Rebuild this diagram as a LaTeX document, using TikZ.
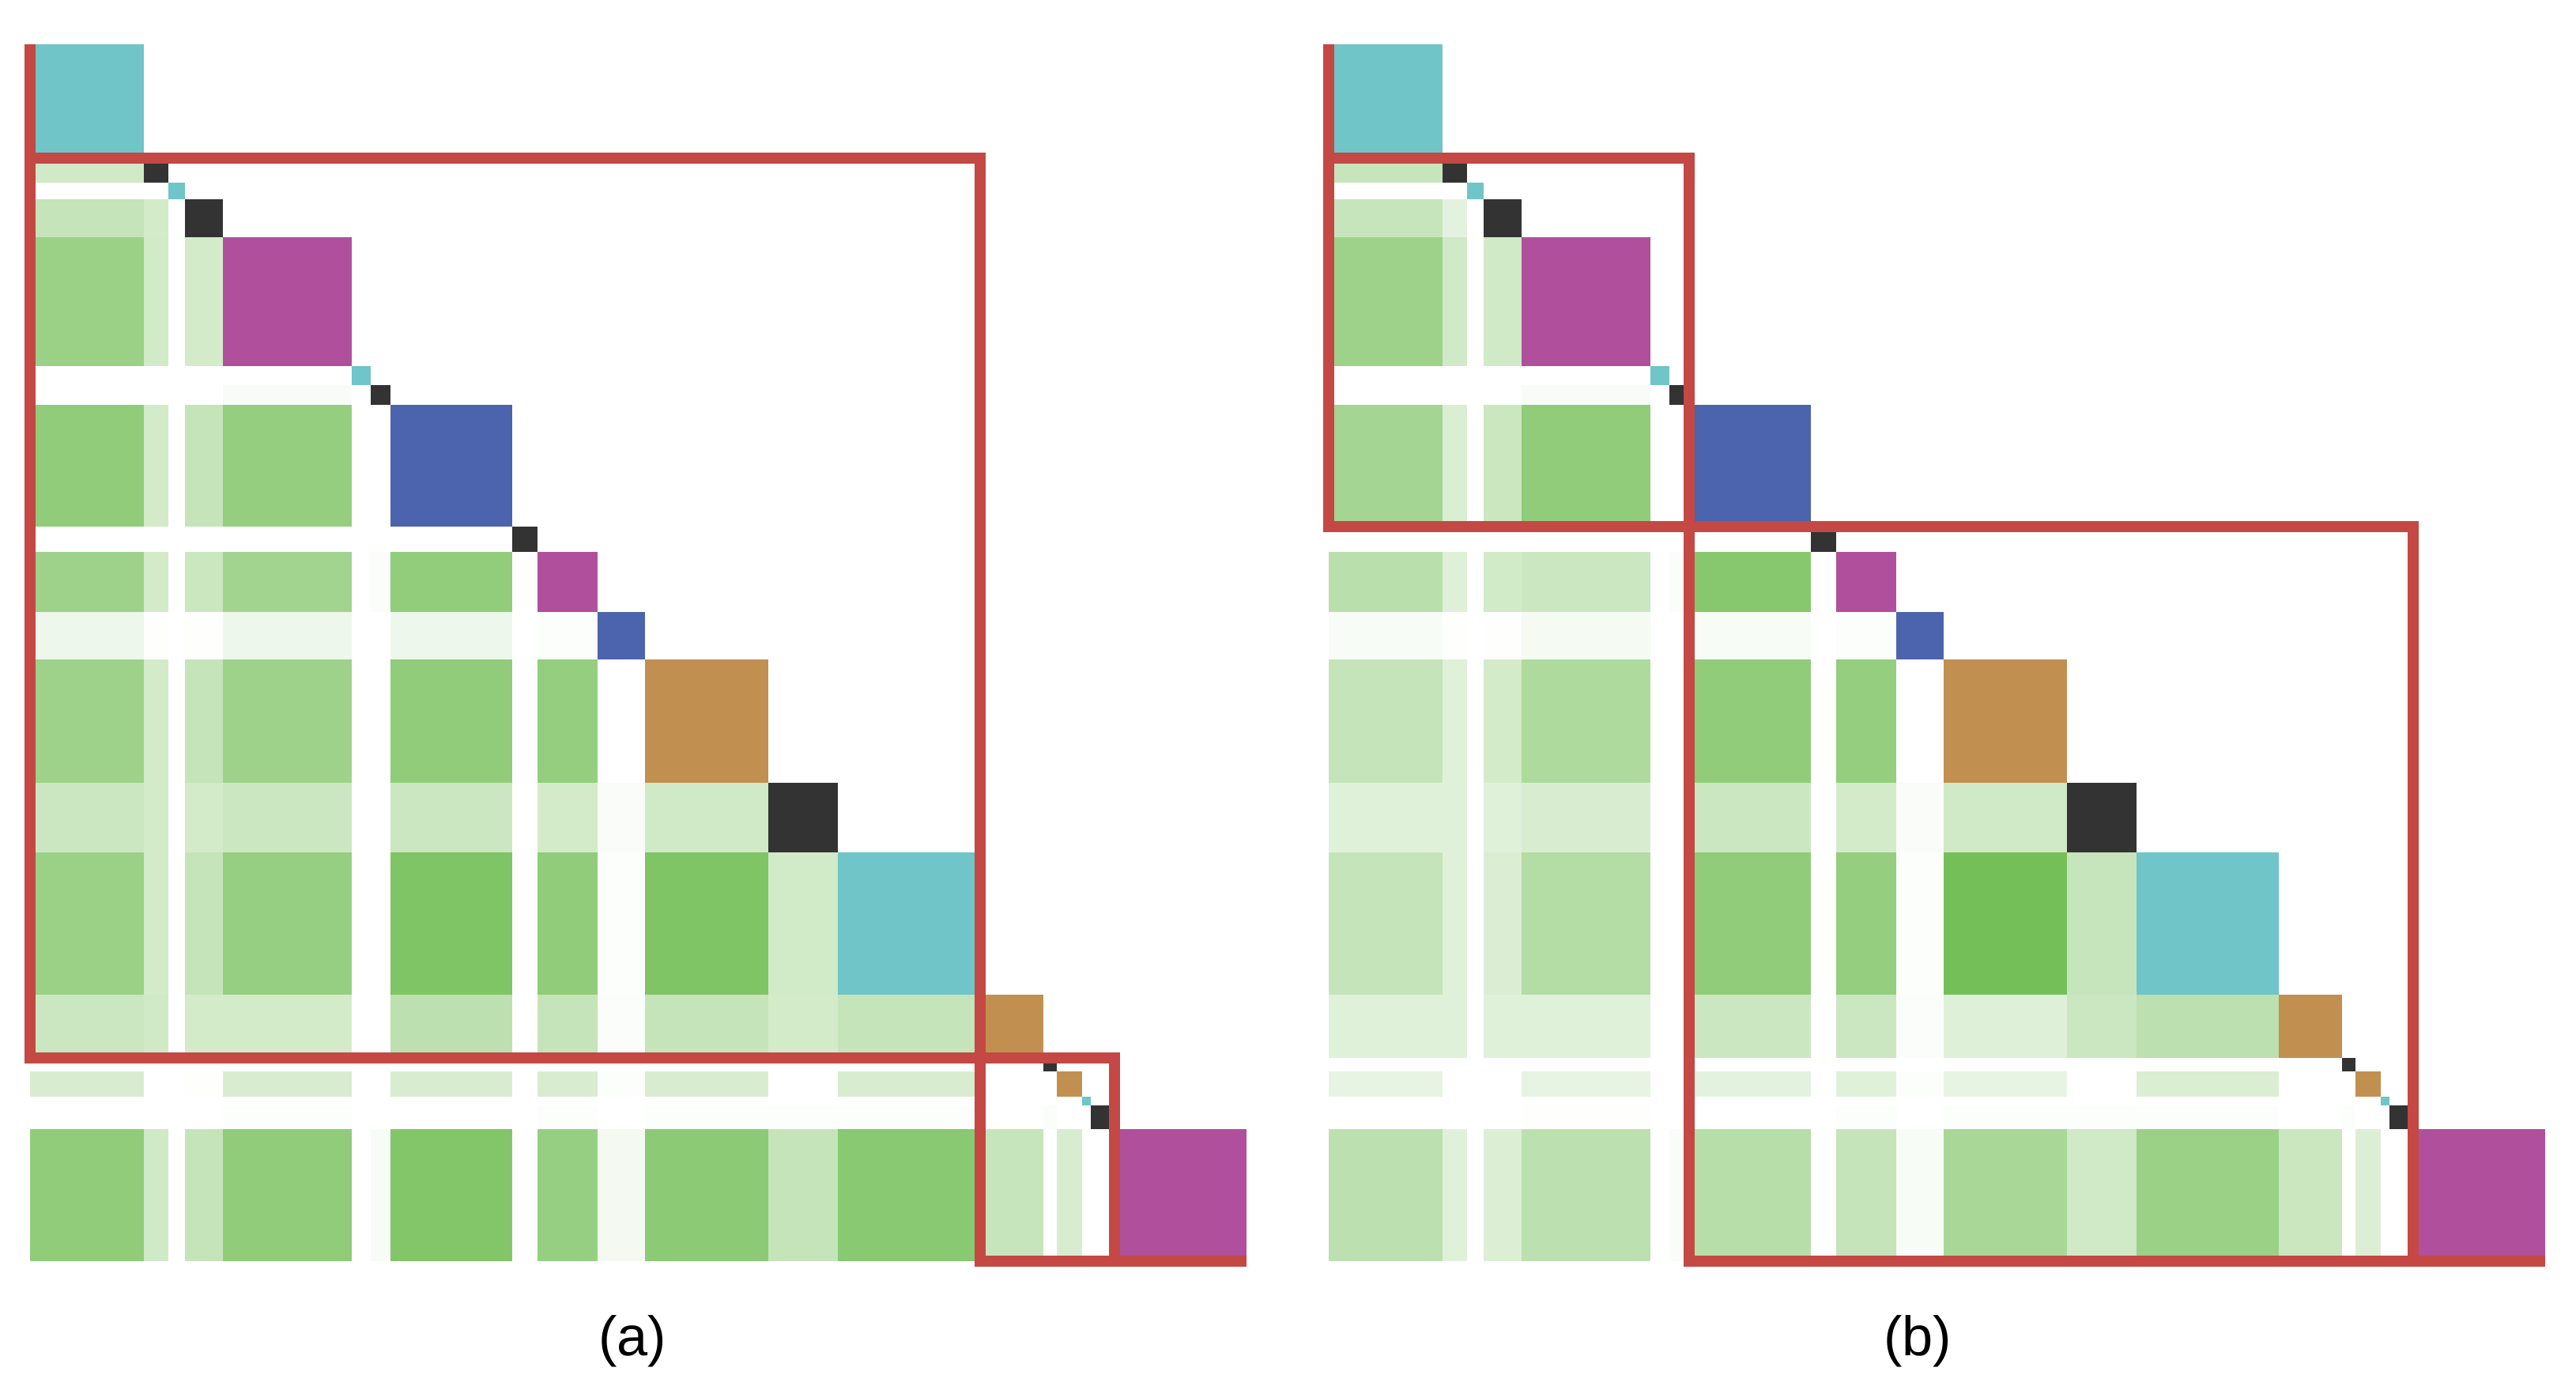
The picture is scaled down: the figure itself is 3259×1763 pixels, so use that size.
\documentclass[tikz,border=0pt]{standalone}
\usepackage{fontspec}
\setmainfont{Liberation Sans}
\definecolor{gbase}{RGB}{116,191,88}
\definecolor{dcyan}{RGB}{111,197,199}
\definecolor{dblack}{RGB}{51,51,51}
\definecolor{dmag}{RGB}{176,80,157}
\definecolor{dblue}{RGB}{76,99,173}
\definecolor{dbrown}{RGB}{193,144,80}
\definecolor{boxred}{RGB}{196,72,68}
\def\B{{38,182,213,234,282,445,469,494,648,680,756,816,972,1060,1240,1320,1337,1369,1380,1410,1577}}
\newcommand\drawcells[2]{%
  \foreach \i/\j/\t in {#2} {%
    \pgfmathsetmacro\xa{\B[\j]+#1}%
    \pgfmathsetmacro\xb{\B[\j+1]+#1}%
    \pgfmathsetmacro\ya{\B[\i]+17.5}%
    \pgfmathsetmacro\yb{\B[\i+1]+17.5}%
    \fill[gbase!\t!white] (\xa,\ya) rectangle (\xb,\yb);
  }%
}
\begin{document}
\begin{tikzpicture}[x=0.01cm,y=-0.01cm,
  redbox/.style={draw=boxred,line width=0.14cm,line join=miter},
  lbl/.style={font=\fontsize{20}{24}\selectfont,text=black}]
\useasboundingbox (0,0) rectangle (3259,1763);
% panel (a) cells
\drawcells{0}{1/0/34,3/0/42,3/1/32,4/0/72,4/1/33,4/3/32,6/4/5,
7/0/80,7/1/32,7/3/42,7/4/77,
9/0/70,9/1/32,9/3/38,9/4/67,9/6/3,9/7/79,
10/0/12,10/1/1,10/3/1,10/4/12,10/7/12,10/9/2,
11/0/70,11/1/32,11/3/42,11/4/70,11/7/80,11/9/77,
12/0/37,12/1/32,12/3/32,12/4/37,12/7/37,12/9/32,12/10/4,12/11/34,
13/0/72,13/1/32,13/3/42,13/4/75,13/7/92,13/9/80,13/10/2,13/11/92,13/12/33,
14/0/37,14/1/34,14/3/32,14/4/32,14/7/48,14/9/42,14/10/3,14/11/42,14/12/32,14/13/42,
16/0/28,16/3/1,16/4/28,16/7/28,16/9/28,16/10/2,16/11/28,16/13/28,
18/4/2,18/9/2,18/11/2,18/12/2,18/13/2,18/15/3,
19/0/80,19/1/34,19/3/42,19/4/80,19/6/5,19/7/89,19/9/75,19/10/8,19/11/82,19/12/42,19/13/85,19/14/40,19/16/28}
% panel (b) cells
\drawcells{1643}{1/0/40,3/0/40,3/1/20,4/0/70,4/1/34,4/3/34,6/4/5,
7/0/65,7/1/27,7/3/38,7/4/80,
9/0/50,9/1/24,9/3/33,9/4/37,9/6/3,9/7/86,
10/0/5,10/1/1,10/3/1,10/4/7,10/7/5,10/9/2,
11/0/42,11/1/22,11/3/32,11/4/58,11/7/80,11/9/77,
12/0/22,12/1/22,12/3/22,12/4/28,12/7/37,12/9/32,12/10/4,12/11/34,
13/0/42,13/1/22,13/3/26,13/4/54,13/7/80,13/9/77,13/10/2,13/11/100,13/12/40,
14/0/22,14/1/22,14/3/22,14/4/22,14/7/37,14/9/37,14/10/3,14/11/23,14/12/37,14/13/48,
16/0/17,16/4/17,16/7/20,16/9/22,16/10/2,16/11/17,16/13/27,
18/4/1,18/9/2,18/11/2,18/12/2,18/13/2,18/15/2,
19/0/48,19/1/22,19/3/25,19/4/48,19/6/4,19/7/52,19/9/42,19/10/5,19/11/62,19/12/34,19/13/72,19/14/38,19/16/25}
% diagonal blocks
\foreach \o in {0,1643} {
  \foreach \k/\c in {0/dcyan,1/dblack,2/dcyan,3/dblack,4/dmag,5/dcyan,6/dblack,7/dblue,8/dblack,9/dmag,10/dblue,11/dbrown,12/dblack,13/dcyan,14/dbrown,15/dblack,16/dbrown,17/dcyan,18/dblack,19/dmag} {
    \pgfmathsetmacro\xa{\B[\k]+\o}
    \pgfmathsetmacro\xb{\B[\k+1]+\o}
    \pgfmathsetmacro\ya{\B[\k]+17.5}
    \pgfmathsetmacro\yb{\B[\k+1]+17.5}
    \fill[\c] (\xa,\ya) rectangle (\xb,\yb);
  }
}
% red boxes, panel (a)
\coordinate (a0) at (38,55.5);
\coordinate (a1) at (38,199.5);
\coordinate (a2) at (1240,1337.5);
\coordinate (a3) at (1410,1594.5);
\coordinate (a4) at (1577,1594.5);
\coordinate (a5) at (1240,1594.5);
\draw[redbox] (a0) -- (a1);
\draw[redbox] (a1) rectangle (a2);
\draw[redbox] (a2) rectangle (a3);
\draw[redbox] (a3) -- (a4);
% red boxes, panel (b)
\coordinate (b0) at (1681,55.5);
\coordinate (b1) at (1681,199.5);
\coordinate (b2) at (2137,665.5);
\coordinate (b3) at (3053,1594.5);
\coordinate (b4) at (3220,1594.5);
\draw[redbox] (b0) -- (b1);
\draw[redbox] (b1) rectangle (b2);
\draw[redbox] (b2) rectangle (b3);
\draw[redbox] (b3) -- (b4);
% labels
\node[lbl] (la) at (800,1696) {(a)};
\node[lbl] (lb) at (2426,1696) {(b)};
\end{tikzpicture}
\end{document}
